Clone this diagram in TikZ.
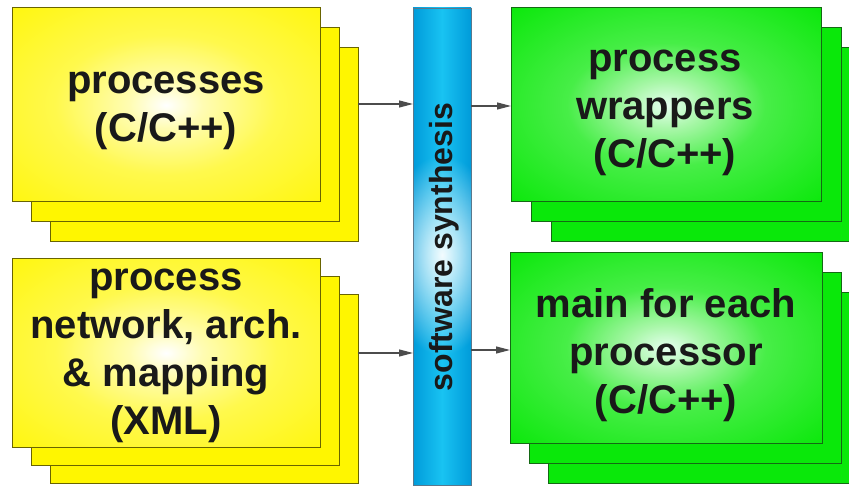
\documentclass[tikz,border=0pt]{standalone}
\usepackage{fontspec}
\setmainfont{Liberation Sans}
\usetikzlibrary{arrows.meta,fadings}
\definecolor{ybase}{RGB}{255,246,0}
\definecolor{yedge}{RGB}{105,100,0}
\definecolor{gbase}{RGB}{10,232,10}
\definecolor{gedge}{RGB}{20,105,20}
\definecolor{bmid}{RGB}{25,195,242}
\definecolor{bside}{RGB}{0,155,218}
\definecolor{bedge}{RGB}{90,120,140}
\colorlet{yin}{white!70!ybase}
\colorlet{yin2}{white!30!ybase}
\colorlet{gin}{white!65!gbase}
\colorlet{gin2}{white!25!gbase}
\definecolor{gcore}{RGB}{230,255,240}
\pgfdeclareradialshading{yglow}{\pgfpoint{0bp}{0bp}}{color(0bp)=(white); color(6bp)=(yin); color(18bp)=(yin2); color(40bp)=(ybase); color(80bp)=(ybase)}
\pgfdeclareradialshading{gglow}{\pgfpoint{0bp}{0bp}}{color(0bp)=(gcore); color(6bp)=(gin); color(16bp)=(gin2); color(36bp)=(gbase); color(80bp)=(gbase)}
\tikzfading[name=glowfade, inner color=transparent!5, outer color=transparent!100]
\tikzset{
  ycard/.style={draw=yedge, line width=1pt, fill=ybase, anchor=north west, inner sep=0pt, outer sep=0pt, minimum width=308pt},
  gcard/.style={draw=gedge, line width=1pt, fill=gbase, anchor=north west, inner sep=0pt, outer sep=0pt, minimum width=310pt},
  yfront/.style={ycard, shading=yglow},
  gfront/.style={gcard, shading=gglow},
  lbl/.style={align=center, font=\fontsize{40}{48}\selectfont\bfseries, text=black!90, inner sep=0pt},
  arr/.style={draw=black!70, line width=1.2pt, -{Triangle[length=14pt,width=7pt]}},
}
\begin{document}
\begin{tikzpicture}[x=1pt,y=-1pt]
\useasboundingbox (0,0) rectangle (849,486);
\clip (0,0) rectangle (849,486);
\fill[white] (0,0) rectangle (849,486);

% yellow top stack
\node[ycard, minimum height=194pt] (p1c) at (50,48) {};
\node[ycard, minimum height=194pt] (p1b) at (31,28) {};
\node[yfront, minimum height=194pt] (p1a) at (12,8) {};
\node[lbl] (t1) at (166,111) {processes\\(C/C++)};

% yellow bottom stack
\node[ycard, minimum height=188pt] (p2c) at (50,295) {};
\node[ycard, minimum height=188pt] (p2b) at (31,277) {};
\node[yfront, minimum height=188pt] (p2a) at (12,259) {};
\node[lbl] (t2) at (166,356) {process\\network, arch.\\\& mapping\\(XML)};

% green top stack
\node[gcard, minimum height=194pt] (w1c) at (551,48) {};
\node[gcard, minimum height=194pt] (w1b) at (531,28) {};
\node[gfront, minimum height=194pt] (w1a) at (511,8) {};
\node[lbl] (t3) at (665,113) {process\\wrappers\\(C/C++)};

% green bottom stack
\node[gcard, minimum width=312pt, minimum height=190pt] (m1c) at (548,293) {};
\node[gcard, minimum width=312pt, minimum height=190pt] (m1b) at (529,273) {};
\node[gfront, minimum width=312pt, minimum height=190pt] (m1a) at (510,253) {};
\node[lbl] (t4) at (666,355) {main for each\\processor\\(C/C++)};

% synthesis bar
\node[draw=bedge, line width=0.8pt, left color=bside, right color=bside, middle color=bmid, minimum width=58pt, minimum height=477pt, inner sep=0pt, outer sep=0pt] (bar) at (442,246.5) {};
\begin{scope}
\clip (bar.north west) rectangle (bar.south east);
\fill[white, path fading=glowfade] (384,155) rectangle (500,355);
\end{scope}
\draw[bedge, line width=0.8pt] (bar.north west) rectangle (bar.south east);
\node[rotate=90, font=\fontsize{32}{38}\selectfont\bfseries, text=black!90, inner sep=0pt] (bt) at (444,247) {software synthesis};

% connectors
\draw[arr] (p1c.east |- 0,104) -- (bar.west |- 0,104);
\draw[arr] (p2c.east |- 0,353) -- (bar.west |- 0,353);
\draw[arr] (bar.east |- 0,106) -- (w1a.west |- 0,106);
\draw[arr] (bar.east |- 0,350) -- (m1a.west |- 0,350);
\end{tikzpicture}
\end{document}
